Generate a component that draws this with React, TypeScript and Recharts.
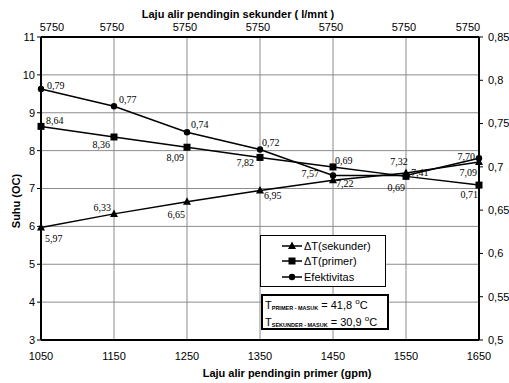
import React from "react";
import {
  LineChart, Line, XAxis, YAxis, CartesianGrid, Legend, LabelList, Label,
} from "recharts";

// values
const FLOW_PRIMER = [1050, 1150, 1250, 1350, 1450, 1550, 1650];
const FLOW_SEKUNDER = "5750";
const DT_SEKUNDER = [5.97, 6.33, 6.65, 6.95, 7.22, 7.41, 7.7];
const DT_PRIMER = [8.64, 8.36, 8.09, 7.82, 7.57, 7.32, 7.09];
const EFEKTIVITAS = [0.79, 0.77, 0.74, 0.72, 0.69, 0.69, 0.71];
const SUHU_TICKS = [3, 4, 5, 6, 7, 8, 9, 10, 11];
const EF_TICKS = [0.5, 0.55, 0.6, 0.65, 0.7, 0.75, 0.8, 0.85];
const LEGEND_ORDER = ["sek", "pri", "efe"];

const data = FLOW_PRIMER.map((x, i) => ({
  x,
  sek: DT_SEKUNDER[i],
  pri: DT_PRIMER[i],
  efe: EFEKTIVITAS[i],
}));

// where Excel put each data label, relative to its point: [dx, dy, anchor]
type Place = [number, number, "start" | "middle" | "end"];
const PLACE_SEK: Place[] = [[4, 14, "start"], [-3, -3, "end"], [-2, 16, "end"], [4, 9, "start"], [3, 7, "start"], [5, 3, "start"], [-4, -2, "end"]];
const PLACE_PRI: Place[] = [[5, -2, "start"], [-4, 11, "end"], [-3, 14, "end"], [-6, 9, "end"], [-14, 10, "end"], [-7, -11, "middle"], [-2, -9, "end"]];
const PLACE_EFE: Place[] = [[6, 0, "start"], [5, -3, "start"], [4, -4, "start"], [2, -4, "start"], [2, -12, "start"], [-1, 15, "end"], [-1, 40, "end"]];

const comma = (v: number, d = 2) => v.toFixed(d).replace(".", ",");
const axisFont = { fontFamily: "'Liberation Sans', Arial, sans-serif", fontSize: 11, fill: "#000" };

const makeLabel = (place: Place[]) => (p: any) => {
  const [dx, dy, anchor] = place[p.index] || [0, 0, "middle"];
  return (
    <text x={p.x + dx} y={p.y + dy} textAnchor={anchor}
      style={{ fontFamily: "'Liberation Serif', 'Times New Roman', serif", fontSize: 10, fill: "#000" }}>
      {comma(Number(p.value))}
    </text>
  );
};

const Tri = ({ cx, cy }: any) => (
  <polygon points={`${cx},${cy - 4.5} ${cx - 4},${cy + 3} ${cx + 4},${cy + 3}`} fill="#000" />
);
const Sq = ({ cx, cy }: any) => <rect x={cx - 3.5} y={cy - 3.5} width={7} height={7} fill="#000" />;
const Dot = ({ cx, cy }: any) => <circle cx={cx} cy={cy} r={3.2} fill="#000" />;

const MARKERS: Record<string, (p: any) => React.ReactElement> = {
  sek: Tri, pri: Sq, efe: Dot,
};

const TopTick = (p: any) => {
  const last = FLOW_PRIMER.length - 1;
  const shift = p.index === 0 ? 11 : p.index === last ? -11 : -2;
  return (
    <text x={p.x + shift} y={31} textAnchor="middle" style={axisFont}>
      {FLOW_SEKUNDER}
    </text>
  );
};

const LegendBox = (props: any) => {
  const items = [...(props.payload || [])].sort(
    (a: any, b: any) => LEGEND_ORDER.indexOf(a.dataKey) - LEGEND_ORDER.indexOf(b.dataKey),
  );
  return (
    <div style={{
      width: 124, height: 48, border: "1px solid #000", background: "#fff",
      fontFamily: "'Liberation Sans', Arial, sans-serif", fontSize: 11, padding: "2px 0 0 0",
    }}>
      {items.map((e: any) => {
        const M = MARKERS[e.dataKey];
        return (
          <div key={e.dataKey} style={{ display: "flex", alignItems: "center", height: 15.5, paddingLeft: 21 }}>
            <svg width={20} height={10} style={{ marginRight: 2 }}>
              <line x1={0} y1={5} x2={20} y2={5} stroke="#000" strokeWidth={1.5} />
              <M cx={10} cy={5} />
            </svg>
            <span>{e.value}</span>
          </div>
        );
      })}
    </div>
  );
};

const sub = { fontSize: 5.5, fontWeight: 700, position: "relative", top: 1 } as const;
const sup = { fontSize: 8, position: "relative", top: -5 } as const;

export default function App() {
  return (
    <div style={{ position: "absolute", left: 0, top: 0, width: 509, height: 383, background: "#fff" }}>
      <LineChart width={509} height={383} data={data} margin={{ top: 0, right: 0, bottom: 0, left: 0 }}>
        <CartesianGrid xAxisId="bottom" yAxisId="left" stroke="#8c8c8c" strokeWidth={1}
          verticalValues={FLOW_PRIMER} horizontalValues={SUHU_TICKS} />
        <XAxis xAxisId="bottom" type="number" dataKey="x" domain={[1050, 1650]} ticks={FLOW_PRIMER}
          height={43} tick={axisFont} tickLine={false} tickMargin={6}
          axisLine={{ stroke: "#000", strokeWidth: 2 }}>
          <Label content={(p: any) => (
            <text x={p.viewBox.x + p.viewBox.width / 2 + 27} y={377} textAnchor="middle"
              style={{ ...axisFont, fontWeight: 700 }}>Laju alir pendingin primer (gpm)</text>
          )} />
        </XAxis>
        <XAxis xAxisId="top" orientation="top" type="number" dataKey="x" domain={[1050, 1650]}
          ticks={FLOW_PRIMER} height={37} tick={<TopTick />} tickLine={false}
          axisLine={{ stroke: "#000", strokeWidth: 2 }}>
          <Label content={(p: any) => (
            <text x={p.viewBox.x + p.viewBox.width / 2 - 22} y={18} textAnchor="middle"
              style={{ ...axisFont, fontWeight: 700 }}>Laju alir pendingin sekunder ( l/mnt )</text>
          )} />
        </XAxis>
        <YAxis yAxisId="left" domain={[3, 11]} ticks={SUHU_TICKS} width={41} tick={axisFont}
          tickSize={4} tickMargin={2} tickLine={{ stroke: "#000" }}
          axisLine={{ stroke: "#000", strokeWidth: 2 }}>
          <Label content={() => (
            <text x={20} y={201} textAnchor="middle" transform="rotate(-90 20 201)"
              style={{ ...axisFont, fontWeight: 700 }}>Suhu (OC)</text>
          )} />
        </YAxis>
        <YAxis yAxisId="right" orientation="right" domain={[0.5, 0.85]} ticks={EF_TICKS} width={30}
          tick={axisFont} tickSize={4} tickMargin={5} tickLine={{ stroke: "#000" }}
          tickFormatter={(v: number) => String(Math.round(v * 100) / 100).replace(".", ",")}
          axisLine={{ stroke: "#000", strokeWidth: 2 }} />
        <Legend layout="vertical" align="center" verticalAlign="middle" content={<LegendBox />}
          wrapperStyle={{ left: 260, top: 235, width: 126 }} />
        <Line xAxisId="bottom" yAxisId="left" dataKey="sek" name="ΔT(sekunder)" stroke="#000"
          strokeWidth={1.5} dot={(p: any) => <Tri key={`s${p.index}`} {...p} />} activeDot={false}
          isAnimationActive={false}>
          <LabelList dataKey="sek" content={makeLabel(PLACE_SEK)} />
        </Line>
        <Line xAxisId="bottom" yAxisId="left" dataKey="pri" name="ΔT(primer)" stroke="#000"
          strokeWidth={1.5} dot={(p: any) => <Sq key={`p${p.index}`} {...p} />} activeDot={false}
          isAnimationActive={false}>
          <LabelList dataKey="pri" content={makeLabel(PLACE_PRI)} />
        </Line>
        <Line xAxisId="bottom" yAxisId="right" dataKey="efe" name="Efektivitas" stroke="#000"
          strokeWidth={1.5} dot={(p: any) => <Dot key={`e${p.index}`} {...p} />} activeDot={false}
          isAnimationActive={false}>
          <LabelList dataKey="efe" content={makeLabel(PLACE_EFE)} />
        </Line>
      </LineChart>
      <div style={{
        position: "absolute", left: 261, top: 294, width: 122, height: 30, border: "2px solid #000",
        background: "#fff", fontFamily: "'Liberation Sans', Arial, sans-serif", fontSize: 11,
        lineHeight: "15px", paddingLeft: 2, paddingTop: 2, boxSizing: "content-box",
      }}>
        <div style={{ whiteSpace: "nowrap" }}>T<span style={sub}>PRIMER - MASUK</span> = 41,8 <span style={sup}>o</span>C</div>
        <div style={{ whiteSpace: "nowrap" }}>T<span style={sub}>SEKUNDER - MASUK</span> = 30,9 <span style={sup}>o</span>C</div>
      </div>
    </div>
  );
}
